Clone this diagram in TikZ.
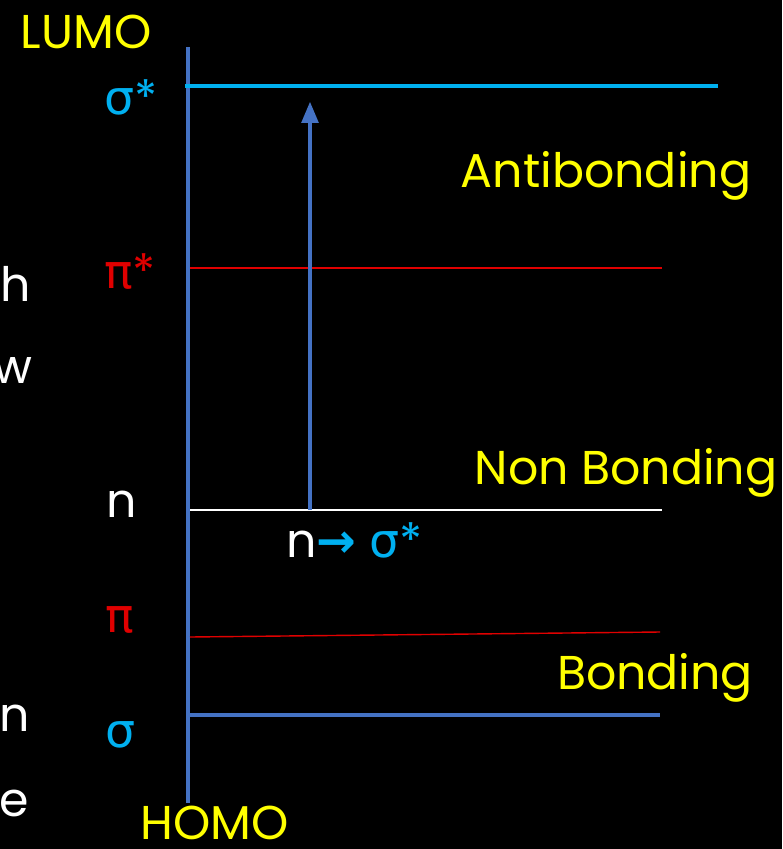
\documentclass[tikz,border=0pt]{standalone}
\usepackage{fontspec}
\setmainfont{Poppins}
\newfontfamily\grk{DejaVu Sans}
\usetikzlibrary{arrows}
\definecolor{lvlyellow}{HTML}{FFFF00}
\definecolor{lvlcyan}{HTML}{00B0F0}
\definecolor{lvlblue}{HTML}{4472C4}
\definecolor{lvlred}{HTML}{E00000}
\begin{document}
\begin{tikzpicture}[x=0.02cm,y=-0.02cm,
  lbl/.style={inner sep=0pt,font=\fontsize{27}{31}\selectfont},
  orb/.style={inner sep=0pt,font=\grk\fontsize{27}{31}\selectfont},
  lvl/.style={line width=0.8pt}]
\fill[black] (0,0) rectangle (782,849);
\clip (0,0) rectangle (782,849);
% axis
\coordinate (top) at (188,47);
\coordinate (bot) at (188,803);
\draw[lvlblue,line width=2.2pt] (top)--(bot);
% levels
\coordinate (sstarL) at (185,86);   \coordinate (sstarR) at (718,86);
\coordinate (pstarL) at (190,268);  \coordinate (pstarR) at (662,268);
\coordinate (nL) at (190,510);      \coordinate (nR) at (662,510);
\coordinate (piL) at (190,637);     \coordinate (piR) at (660,632);
\coordinate (sL) at (190,715);      \coordinate (sR) at (660,715);
\draw[lvlcyan,line width=2.2pt] (sstarL)--(sstarR);
\draw[lvlred,lvl] (pstarL)--(pstarR);
\draw[white,lvl] (nL)--(nR);
\draw[lvlred,lvl] (piL)--(piR);
\draw[lvlblue,line width=1.8pt] (sL)--(sR);
% transition
\coordinate (jfrom) at (310,510);
\coordinate (jto) at (310,102);
\draw[lvlblue,line width=1.8pt,-triangle 45] (jfrom)--(jto);
% orbital labels
\node(sstar)[orb,lvlcyan,anchor=west] at (104,97){σ{\rmfamily*}};
\node(pstar)[orb,lvlred,anchor=west] at (104,272){π{\rmfamily*}};
\node(nlab)[lbl,white,anchor=west] at (106,504){n};
\node(pilab)[orb,lvlred,anchor=west] at (105,620){π};
\node(slab)[orb,lvlcyan,anchor=west] at (105,735){σ};
\node(trans)[lbl,anchor=west] at (286,540){\textcolor{white}{n}\textcolor{lvlcyan}{{\grk\bfseries→} {\grk σ}*}};
% region labels
\node(lumo)[lbl,lvlyellow] at (86,32){LUMO};
\node(homo)[lbl,lvlyellow] at (215,823){HOMO};
\node(anti)[lbl,lvlyellow] at (606,176){Antibonding};
\node(nonb)[lbl,lvlyellow] at (626,473){Non Bonding};
\node(bond)[lbl,lvlyellow] at (655,678){Bonding};
% cut-off slide text
\node(frag1)[lbl,white,anchor=east] at (31,284){ch};
\node(frag2)[lbl,white,anchor=east] at (33,370){w};
\node(frag3)[lbl,white,anchor=east] at (30,718){n};
\node(frag4)[lbl,white,anchor=east] at (29,803){e};
\end{tikzpicture}
\end{document}
